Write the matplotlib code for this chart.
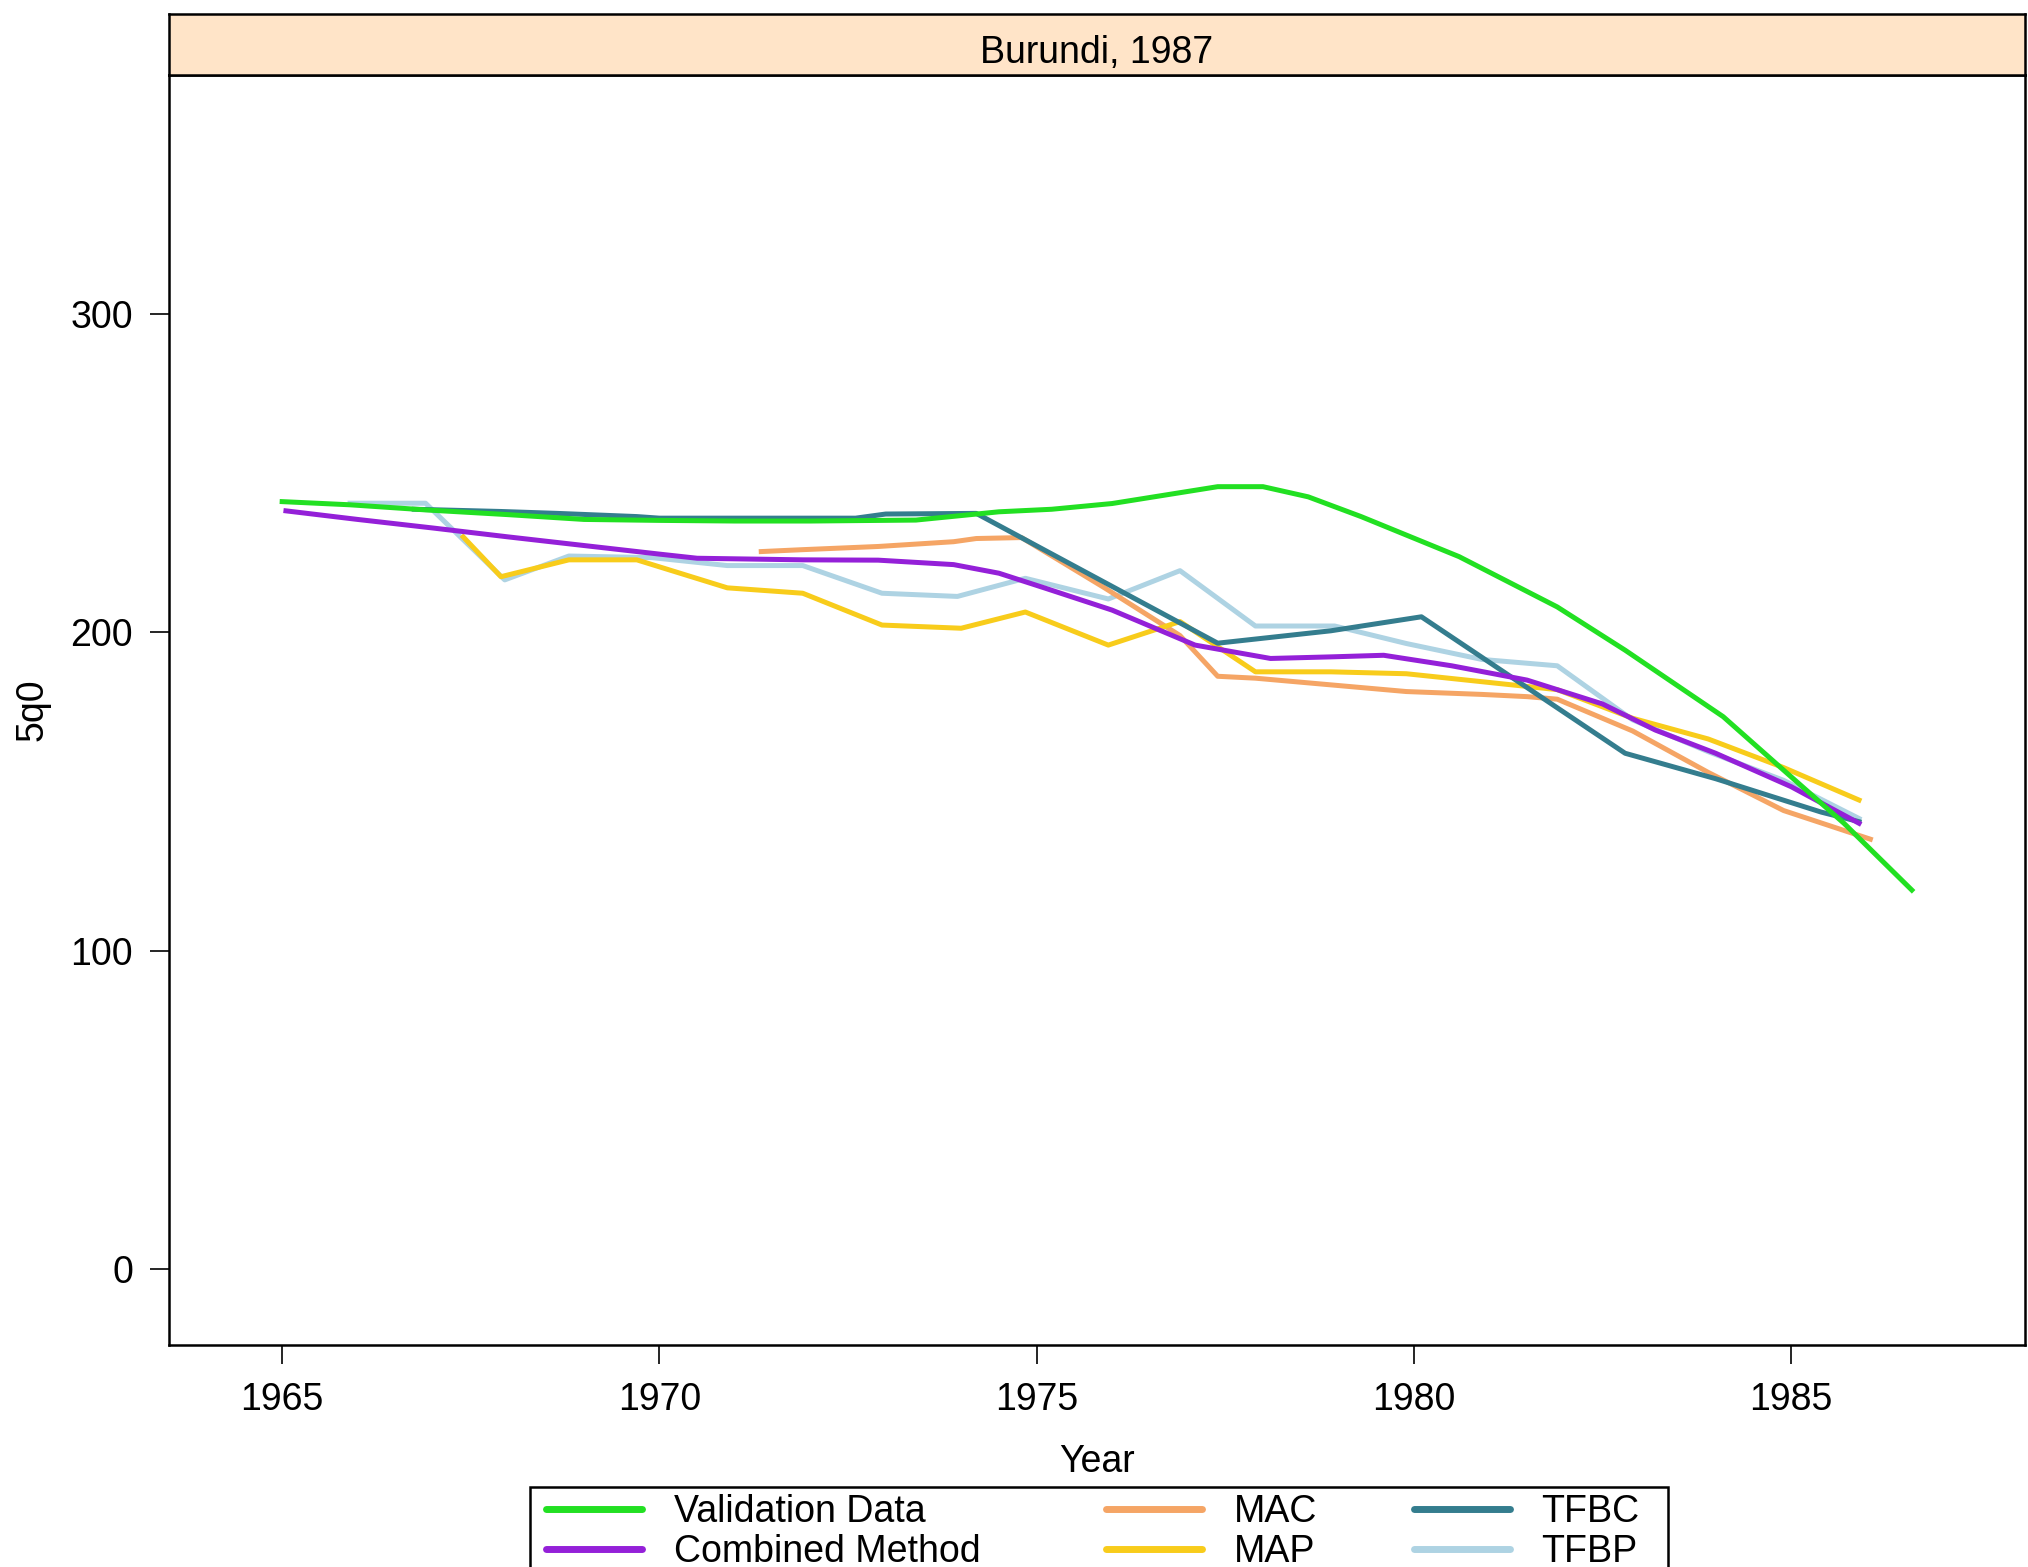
import matplotlib
matplotlib.use("Agg")
import matplotlib.pyplot as plt
from matplotlib.lines import Line2D
from matplotlib.patches import Rectangle

plt.rcParams['font.family'] = ['Liberation Sans', 'DejaVu Sans']

# ---- data ----
val_years = [1965, 1965.9, 1966.9, 1968, 1969, 1970, 1971, 1972, 1973.4, 1974.5, 1975.2, 1976,
             1977.4, 1978, 1978.6, 1979.3, 1980.6, 1981.9, 1982.8, 1984.1, 1984.9, 1985.7, 1986.6]
val_q = [241.1, 240.1, 238.5, 237, 235.5, 235.2, 235, 235, 235.3, 237.9, 238.7, 240.5,
         245.8, 245.8, 242.6, 236.4, 223.8, 208, 194.4, 173.5, 156.7, 140, 119]

cm_years = [1965.05, 1966, 1967, 1968, 1969, 1970, 1970.5, 1971.9, 1972.9, 1973.9, 1974.5, 1975.1,
            1976, 1977.1, 1978.1, 1978.9, 1979.6, 1980.5, 1981.5, 1982.5, 1983.2, 1984, 1985, 1985.9]
cm_q = [238.2, 235.5, 232.8, 230, 227.3, 224.6, 223.3, 222.8, 222.7, 221.3, 218.6, 214,
        207, 196, 191.8, 192.3, 192.8, 189.5, 185, 177.5, 169.3, 162, 151.5, 140]

mac_years = [1971.35, 1971.9, 1972.9, 1973.9, 1974.2, 1974.8, 1975.9, 1976.9, 1977.4, 1977.9,
             1978.9, 1979.9, 1980.9, 1981.5, 1981.9, 1982.9, 1983.9, 1984.9, 1986.05]
mac_q = [225.4, 226, 227, 228.5, 229.5, 229.8, 214, 199, 186.2, 185.6,
         183.5, 181.4, 180.5, 179.8, 179, 169, 156, 144, 135]

map_years = [1967.4, 1967.9, 1968.8, 1969.7, 1970.9, 1971.9, 1972.95, 1974.0, 1974.85, 1975.95,
             1976.9, 1977.9, 1978.9, 1979.9, 1980.9, 1981.9, 1982.9, 1983.9, 1984.9, 1985.9]
map_q = [230, 217.5, 222.8, 222.8, 214, 212.3, 202.3, 201.3, 206.4, 196,
         203.4, 187.6, 187.6, 187, 184.5, 182, 173, 166.5, 157.5, 147.3]

tfbc_years = [1966.75, 1967.9, 1968.65, 1969.7, 1970.0, 1972.6, 1973.0, 1974.2, 1977.4,
              1978.9, 1980.1, 1982.8, 1984.0, 1985.4, 1985.9]
tfbc_q = [238.7, 238, 237.4, 236.4, 235.9, 235.9, 237.2, 237.4, 196.6,
          200.5, 204.9, 162, 154, 143.5, 140.5]

tfbp_years = [1965.9, 1966.9, 1967.95, 1968.8, 1969.9, 1970.9, 1971.9, 1972.95, 1973.95, 1974.85,
              1975.95, 1976.9, 1977.9, 1978.95, 1979.9, 1980.9, 1981.9, 1982.9, 1983.9, 1984.9, 1985.9]
tfbp_q = [240.6, 240.6, 216.5, 224, 223.5, 221, 221, 212.3, 211.3, 217,
          210.5, 219.4, 202, 202, 196.5, 191.5, 189.5, 172.5, 162.5, 153.5, 141.5]

series = [
    ("Validation Data", val_years, val_q, '#22E022'),
    ("Combined Method", cm_years, cm_q, '#9420D8'),
    ("MAC", mac_years, mac_q, '#F5A565'),
    ("MAP", map_years, map_q, '#F8CC1B'),
    ("TFBC", tfbc_years, tfbc_q, '#347D8E'),
    ("TFBP", tfbp_years, tfbp_q, '#AED3E3'),
]
draw_order = ["TFBP", "MAC", "MAP", "TFBC", "Combined Method", "Validation Data"]

x_ticks = [1965, 1970, 1975, 1980, 1985]
y_ticks = [0, 100, 200, 300]
panel_title = "Burundi, 1987"

W, H = 2028, 1567
fig = plt.figure(figsize=(W / 100, H / 100), dpi=100)
FS = 27

# main panel
L, R, B, T = 169 / W, 2025 / W, 1 - 1345 / H, 1 - 75 / H
ax = fig.add_axes([L, B, R - L, T - B])
by_name = {s[0]: s for s in series}
for i, name in enumerate(draw_order):
    n, xs, ys, c = by_name[name]
    ax.plot(xs, ys, color=c, lw=3.6, solid_joinstyle='round', zorder=2 + i)
ax.set_xlim(1963.5, 1988.1)
ax.set_ylim(-24, 375.2)
ax.set_xticks(x_ticks)
ax.set_yticks(y_ticks)
ax.tick_params(axis='both', length=14, width=1.2, color='black', labelsize=FS, direction='out')
ax.tick_params(axis='x', pad=13)
ax.tick_params(axis='y', pad=12)
for sp in ax.spines.values():
    sp.set_linewidth(1.8)
ax.set_xlabel("Year", fontsize=FS, labelpad=18)
ax.set_ylabel("5q0", fontsize=FS)
ax.yaxis.set_label_coords(-0.064, 0.5)

# strip
sax = fig.add_axes([L, T, R - L, (1 - 14 / H) - T])
sax.set_facecolor('#FFE4C8')
sax.set_xticks([])
sax.set_yticks([])
for sp in sax.spines.values():
    sp.set_linewidth(1.8)
sax.text(0.5, 0.36, panel_title, ha='center', va='center', fontsize=FS, transform=sax.transAxes)

# legend (three columns, frame drawn around them)
cols = [["Validation Data", "Combined Method"], ["MAC", "MAP"], ["TFBC", "TFBP"]]
col_x = [546, 1106, 1414]
top_y = 1494
for names, cx in zip(cols, col_x):
    handles = [Line2D([], [], color=by_name[n][3], lw=5, solid_capstyle='round') for n in names]
    fig.legend(handles, names, loc='upper left', bbox_to_anchor=(cx / W, 1 - top_y / H),
               bbox_transform=fig.transFigure, frameon=False, fontsize=FS,
               handlelength=2.55, handletextpad=0.85, labelspacing=0.12, borderpad=0.0,
               borderaxespad=0.0)
fig.patches.append(Rectangle((530 / W, -0.05), 1138 / W, (H - 1487) / H + 0.05,
                             transform=fig.transFigure, fill=False, edgecolor='black', lw=1.8))

fig.savefig("out.png", dpi=100)
